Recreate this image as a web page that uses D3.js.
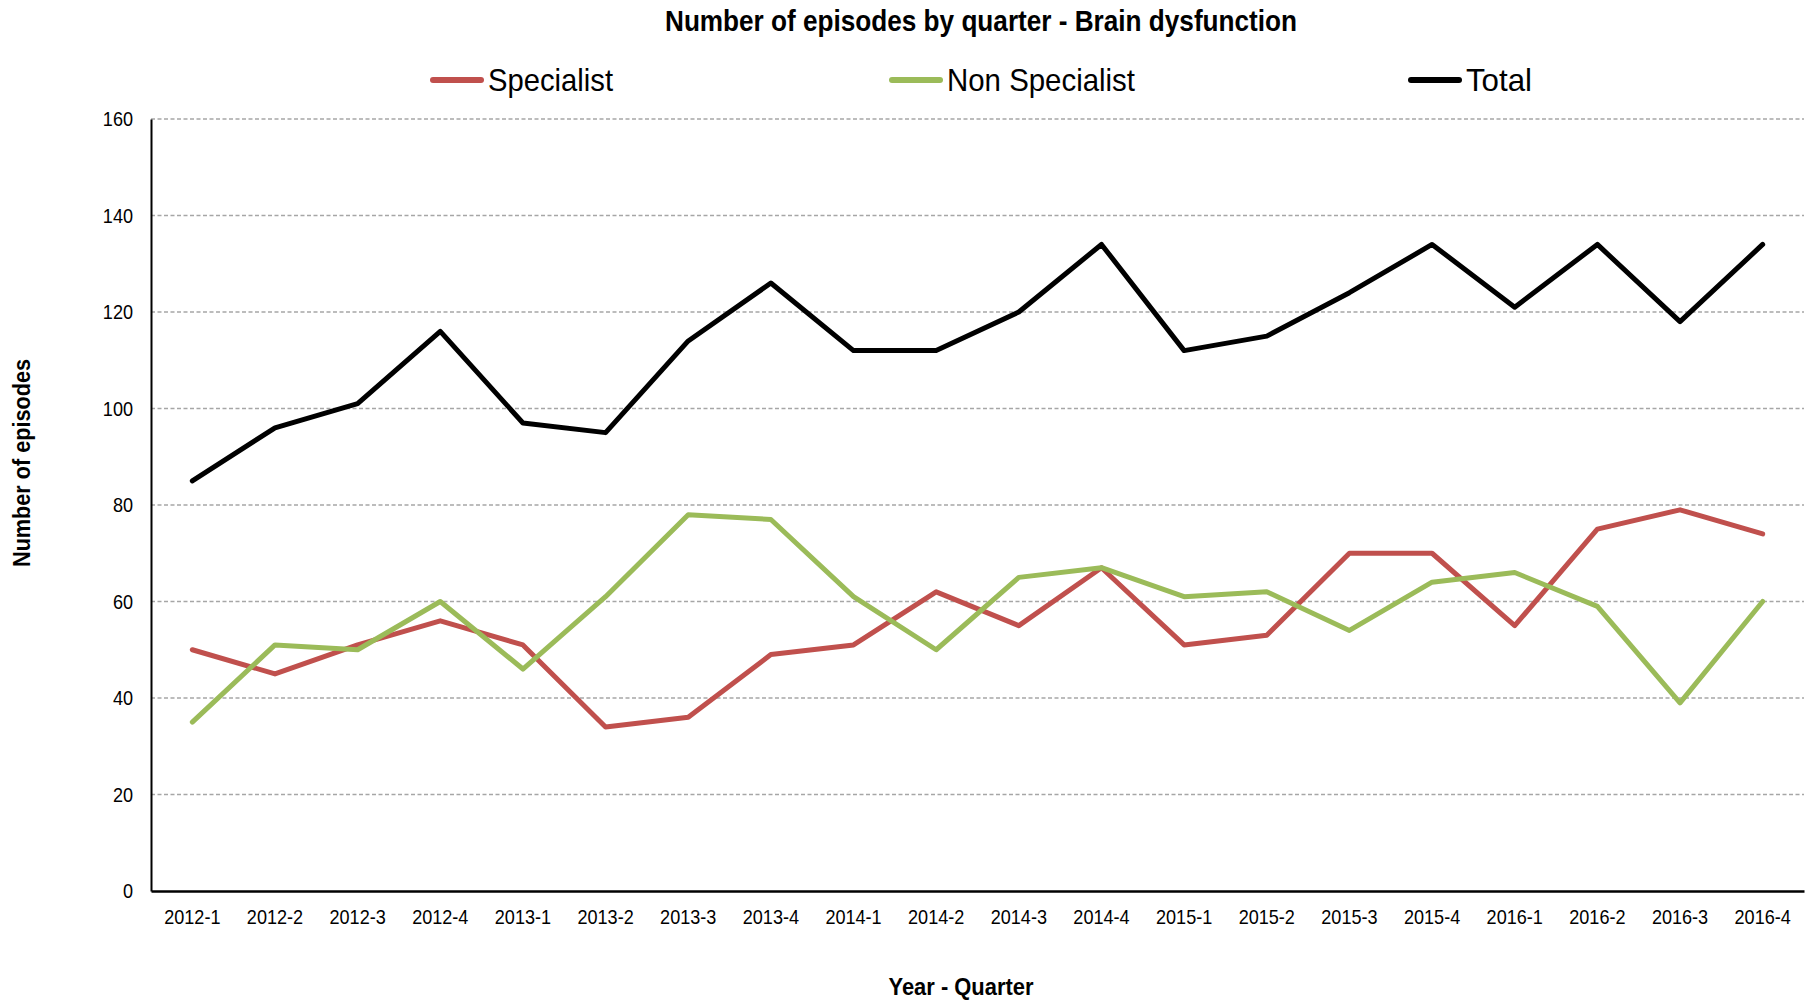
<!DOCTYPE html>
<html>
<head>
<meta charset="utf-8">
<script src="https://cdn.jsdelivr.net/npm/d3@7"></script>
<style>
  html, body { margin: 0; padding: 0; background: #fff; }
  svg { display: block; }
  text { font-family: "Liberation Sans Narrow", "Arial Narrow", "Liberation Sans", Arial, sans-serif; }
</style>
</head>
<body>
<script>
const categories = ["2012-1","2012-2","2012-3","2012-4","2013-1","2013-2","2013-3","2013-4","2014-1","2014-2","2014-3","2014-4","2015-1","2015-2","2015-3","2015-4","2016-1","2016-2","2016-3","2016-4"];
const specialist = [50,45,51,56,51,34,36,49,51,62,55,67,51,53,70,70,55,75,79,74];
const nonSpecialist = [35,51,50,60,46,61,78,77,61,50,65,67,61,62,54,64,66,59,39,60];
const total = [85,96,101,116,97,95,114,126,112,112,120,134,112,115,124,134,121,134,118,134];
const yTicks = [0,20,40,60,80,100,120,140,160];
const seriesNames = ["Specialist","Non Specialist","Total"];
const seriesColors = ["#C0504D","#9BBB59","#000000"];

const W = 1815, H = 1000;
const m = {left: 151, right: 11, top: 119, bottom: 109};
const svg = d3.select("body").append("svg").attr("width", W).attr("height", H);

// condense text: bigger glyphs squeezed to a narrower width (imitates a narrow font)
function condense(sel, ratio) {
  sel.each(function() {
    const w = this.getComputedTextLength();
    d3.select(this).attr("textLength", w * ratio).attr("lengthAdjust", "spacingAndGlyphs");
  });
}

const x = d3.scaleBand().domain(categories).range([m.left, W - m.right]);
const y = d3.scaleLinear().domain([0, 160]).range([H - m.bottom, m.top]);

// gridlines
svg.append("g").selectAll("line").data(yTicks.filter(d => d > 0)).join("line")
  .attr("x1", m.left).attr("x2", W - m.right)
  .attr("y1", d => y(d)).attr("y2", d => y(d))
  .attr("stroke", "#a6a6a6").attr("stroke-width", 1.3).attr("stroke-dasharray", "4,2.5");

// y axis
const yAxis = d3.axisLeft(y).tickValues(yTicks).tickSize(0).tickPadding(18);
const gy = svg.append("g").attr("transform", `translate(${m.left},0)`).call(yAxis);
gy.select(".domain").attr("stroke", "#000").attr("stroke-width", 2);
gy.selectAll("text").attr("font-size", 21).attr("fill", "#000").call(condense, 0.86);

// x axis
const xAxis = d3.axisBottom(x).tickSize(0).tickPadding(18);
const gx = svg.append("g").attr("transform", `translate(0,${y(0)})`).call(xAxis);
gx.select(".domain").attr("stroke", "#000").attr("stroke-width", 2.5);
gx.selectAll("text").attr("font-size", 21).attr("fill", "#000").call(condense, 0.86);

// lines
const data = [specialist, nonSpecialist, total];
const line = d3.line().x((d, i) => x(categories[i]) + x.bandwidth() / 2).y(d => y(d));
svg.append("g").selectAll("path").data(data).join("path")
  .attr("d", d => line(d))
  .attr("fill", "none")
  .attr("stroke", (d, i) => seriesColors[i])
  .attr("stroke-width", 5)
  .attr("stroke-linejoin", "round")
  .attr("stroke-linecap", "round");

// title
svg.append("text").attr("x", 981).attr("y", 31).attr("text-anchor", "middle")
  .attr("font-size", 30).attr("font-weight", "bold").text("Number of episodes by quarter - Brain dysfunction")
  .attr("textLength", 632).attr("lengthAdjust", "spacingAndGlyphs");

// legend
const legendX = [430, 889, 1408];
const legendW = [125, 188, 66];
const lg = svg.append("g").selectAll("g").data(seriesNames).join("g")
  .attr("transform", (d, i) => `translate(${legendX[i]},80)`);
lg.append("line").attr("x1", 3).attr("x2", 51).attr("y1", 0).attr("y2", 0)
  .attr("stroke", (d, i) => seriesColors[i]).attr("stroke-width", 6).attr("stroke-linecap", "round");
lg.append("text").attr("x", 58).attr("y", 11).attr("font-size", 32).text(d => d)
  .attr("textLength", (d, i) => legendW[i]).attr("lengthAdjust", "spacingAndGlyphs");

// axis titles
svg.append("text").attr("transform", "translate(30,463) rotate(-90)").attr("text-anchor", "middle")
  .attr("font-size", 24).attr("font-weight", "bold").text("Number of episodes")
  .attr("textLength", 208).attr("lengthAdjust", "spacingAndGlyphs");
svg.append("text").attr("x", 961).attr("y", 995).attr("text-anchor", "middle")
  .attr("font-size", 24).attr("font-weight", "bold").text("Year - Quarter")
  .attr("textLength", 145).attr("lengthAdjust", "spacingAndGlyphs");
</script>
</body>
</html>
